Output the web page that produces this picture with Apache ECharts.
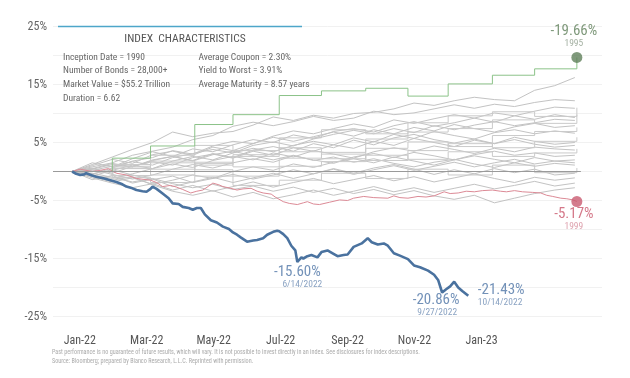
<!DOCTYPE html>
<html><head><meta charset="utf-8">
<script src="https://cdn.jsdelivr.net/npm/echarts@6/dist/echarts.min.js"></script>
<style>html,body{margin:0;padding:0;background:#fff}#c{width:630px;height:378px}</style>
</head><body><div id="c"></div>
<script>
// ---- tick labels ----
const xTickLabels = ['Jan-22','Mar-22','May-22','Jul-22','Sep-22','Nov-22','Jan-23'];
const xTickSlots = [2,7,12,17,22,27,32];          // slots on a 42-slot label axis
const yTickLabelValues = [-25,-15,-5,5,15,25];

// ---- 2022 (blue) : trading-day index and cumulative return % ----
const blueDays = [0,2,4,6,7,10,12,16,19,22,25,27,30,32,35,37,39,40,42,45,48,50,53,55,58,60,62,64,66,69,72,75,78,80,82,84,87,90,92,95,97,100,102,103,105,107,109,111,112,114,115,117,119,122,124,127,130,132,135,137,140,142,144,147,149,152,155,157,160,163,167,170,173,177,180,182,184,186,188,190,192,194,197];
const blueValues = [0,-0.4,-0.6,-0.5,-0.3,-0.7,-0.9,-1.2,-1.5,-1.8,-2.2,-2.6,-2.9,-3.2,-3.4,-3.5,-3.0,-2.6,-3.0,-3.8,-4.6,-5.5,-5.6,-6.1,-6.3,-6.6,-6.3,-6.3,-7.4,-8.4,-8.8,-9.5,-9.9,-10.5,-10.9,-11.4,-12.1,-11.9,-11.8,-11.5,-10.9,-10.4,-10.2,-10.3,-10.8,-11.5,-12.8,-13.6,-15.6,-14.8,-15.0,-14.6,-14.4,-14.8,-13.9,-13.6,-14.2,-14.6,-14.4,-14.3,-13.0,-12.7,-12.4,-11.5,-12.2,-12.6,-12.4,-12.8,-14.1,-14.5,-15.1,-16.2,-16.5,-17.1,-17.8,-18.7,-20.86,-20.3,-19.8,-19.0,-20.0,-20.6,-21.43];
const blueNoteDays = [112,184,197];
const blueNoteDates = ['6/14/2022','9/27/2022','10/14/2022'];

// ---- 1999 (red) ----
const redDays = [0,4,10,14,18,22,27,32,39,42,45,49,52,55,59,62,65,68,70,73,75,79,82,85,89,92,95,99,101,105,108,112,115,117,120,123,128,133,137,140,145,150,157,160,163,167,172,176,180,185,188,192,196,200,204,209,213,216,220,224,229,233,236,239,243,246,249,251];
const redValues = [0,0.4,0.0,0.2,0.5,-0.3,-0.6,-1.2,-1.5,-1.9,-2.6,-2.4,-2.7,-3.1,-3.7,-3.4,-3.2,-2.5,-2.0,-2.3,-2.6,-2.9,-3.2,-3.0,-2.9,-3.4,-3.7,-3.9,-4.4,-5.2,-5.5,-5.7,-5.4,-5.2,-5.6,-5.7,-5.3,-4.9,-5.0,-4.6,-4.3,-4.5,-4.6,-4.2,-4.5,-4.6,-4.3,-4.4,-4.2,-3.5,-3.8,-3.7,-3.4,-3.5,-3.3,-3.2,-3.4,-3.5,-3.3,-3.5,-3.6,-3.7,-4.1,-4.3,-4.6,-4.7,-4.9,-5.17];

// ---- 1995 (green, monthly) ----
const greenDays = [0,20,39,61,80,103,124,146,167,187,209,230,251];
const greenValues = [0,2.3,4.4,8.1,9.8,13.1,13.9,14.35,13.0,15.1,16.6,17.7,19.66];

// ---- other years (grey), daily series sampled every 10 trading days ----
const greyDays = [0,10,20,30,40,50,60,70,80,90,100,110,120,130,140,150,160,170,180,190,200,210,220,230,240,250];
const grey01 = [0,1.2,2.5,3.8,5.0,6.8,6.0,6.6,6.9,8.0,9.4,8.8,9.7,9.2,10.0,10.2,10.8,11.8,11.4,12.2,12.8,12.4,12.2,14.0,14.8,16.2];
const grey02 = [0,0.8,1.5,2.8,3.5,4.2,5.5,6.2,7.8,8.5,7.9,8.6,9.5,8.8,9.2,10.4,9.8,10.1,10.8,11.5,10.9,11.6,11.2,11.9,12.4,12.2];
const grey03 = [0,-0.5,0.6,1.8,2.4,3.6,3.0,4.4,5.2,4.8,6.1,7.0,6.5,7.4,8.2,7.6,8.9,8.3,9.1,9.8,9.2,10.1,9.6,10.4,11.1,10.9];
const grey04 = [0,0.4,1.2,0.8,2.0,2.6,3.9,3.4,4.6,5.5,5.0,6.3,5.7,6.9,7.4,6.8,7.9,8.6,7.8,8.4,9.2,8.5,9.6,9.0,9.8,9.3];
const grey05 = [0,1.0,2.1,1.4,2.9,3.5,2.8,4.2,3.6,4.8,5.9,5.2,6.0,6.8,6.1,7.2,6.5,7.6,7.0,8.1,7.4,6.8,7.7,8.3,7.6,7.9];
const grey06 = [0,-0.8,0.2,1.1,0.5,1.8,2.6,2.0,3.2,4.0,3.4,4.5,5.2,4.6,5.8,5.1,6.4,5.7,6.9,6.2,5.6,6.7,7.2,6.5,7.0,6.6];
const grey07 = [0,0.6,-0.3,0.9,1.7,1.1,2.4,3.0,2.3,3.5,2.8,4.1,3.5,4.6,4.0,5.2,4.5,5.7,5.0,4.3,5.4,4.8,5.9,5.2,4.7,5.0];
const grey08 = [0,-0.6,-1.2,-0.4,0.5,1.3,0.7,1.9,2.6,2.0,3.2,2.5,3.6,3.0,2.3,3.4,4.1,3.5,4.4,3.8,3.1,4.0,3.4,4.2,3.9,3.7];
const grey09 = [0,0.3,-0.5,-1.3,-0.6,0.4,1.2,0.6,1.5,2.2,1.6,2.7,2.0,1.4,2.5,3.1,2.4,3.3,2.7,2.0,2.9,3.5,2.8,3.2,2.6,2.8];
const grey10 = [0,-0.9,-1.8,-1.1,-2.2,-1.5,-0.6,-1.2,0.0,0.8,0.2,1.3,0.7,1.6,2.2,1.5,2.5,1.8,1.1,2.0,2.7,2.1,1.5,2.4,1.8,2.0];
const grey11 = [0,0.5,1.4,0.8,1.9,2.6,1.8,2.9,3.5,2.7,2.0,2.8,1.9,2.5,1.6,2.2,1.4,0.8,1.6,2.1,1.3,0.7,1.5,0.9,1.4,1.1];
const grey12 = [0,-0.4,0.3,-0.6,-1.4,-0.8,-1.9,-1.2,-0.5,-1.3,-0.6,0.3,-0.4,0.5,-0.3,0.6,1.2,0.4,-0.5,0.3,-0.4,0.5,-0.2,0.4,-0.6,-0.3];
const grey13 = [0,-1.1,-2.0,-2.8,-2.1,-3.2,-2.4,-3.4,-2.6,-1.8,-2.7,-1.9,-1.2,-2.1,-1.4,-0.7,-1.6,-0.9,-1.8,-1.1,-0.4,-1.2,-1.9,-1.0,-1.5,-1.1];
const grey14 = [0,-0.7,-1.5,-0.9,-2.3,-3.4,-4.1,-3.3,-4.4,-3.6,-4.7,-4.0,-3.2,-4.1,-3.4,-2.6,-3.5,-2.8,-3.6,-2.9,-2.2,-3.0,-2.4,-1.7,-2.5,-2.0];
const grey15 = [0,-0.3,-1.0,-1.8,-1.2,-2.1,-2.8,-2.2,-3.1,-2.5,-3.4,-2.7,-3.6,-2.9,-3.8,-3.1,-4.0,-3.3,-4.2,-4.8,-4.1,-5.4,-4.6,-3.8,-3.2,-2.8];
const grey16 = [0,1.5,0.8,2.2,3.4,2.6,1.9,3.1,2.4,3.7,4.3,3.5,4.8,4.1,5.4,4.6,5.8,6.4,5.5,4.9,5.6,4.8,5.5,4.7,4.2,4.5];
const grey17 = [0,0.2,0.9,1.7,1.1,2.4,3.1,3.8,3.2,4.5,5.1,4.4,5.6,6.4,7.1,6.5,7.4,6.7,7.9,7.2,8.0,8.6,7.9,8.4,9.0,8.8];
const grey18 = [0,-1.4,-0.7,-2.0,-1.3,-2.6,-1.8,-1.0,-1.9,-1.1,-0.3,-1.2,-0.4,0.4,-0.5,0.3,1.0,0.2,0.9,1.6,0.8,1.5,2.1,1.3,1.8,1.5];

// ---- other years (grey), monthly series ----
const stepDays = [0,20,39,61,80,103,124,146,167,187,209,230,251];
const step01 = [0,1.2,2.8,4.5,3.6,5.8,7.2,6.5,8.4,9.6,10.3,9.5,11.0];
const step02 = [0,0.5,-0.6,1.4,2.9,4.1,3.3,5.6,6.8,7.4,8.9,8.3,9.8];
const step03 = [0,0.9,1.8,1.1,2.6,3.4,2.2,4.0,5.1,4.3,6.2,6.9,7.6];
const step04 = [0,-0.7,0.4,1.6,0.8,2.3,3.0,1.9,3.6,4.8,4.1,5.2,5.9];
const step05 = [0,0.6,1.5,0.3,-0.8,0.9,1.7,2.8,2.1,3.4,2.6,3.2,3.9];
const step06 = [0,-1.0,-1.9,-0.8,-2.4,-1.5,-0.3,-1.2,0.4,-0.6,1.1,-0.2,0.6];

const greyDaily = [grey01,grey02,grey03,grey04,grey05,grey06,grey07,grey08,grey09,grey10,grey11,grey12,grey13,grey14,grey15,grey16,grey17,grey18];
const greyMonthly = [step01,step02,step03,step04,step05,step06];

const FONT = "'Liberation Sans Narrow','Roboto Condensed','Arial Narrow','Liberation Sans',sans-serif";
const pair = (xs, ys) => xs.map((x, i) => [x, ys[i]]);
const fmtPct = v => v.toFixed(2) + '%';

const labelSlots = [];
for (let i = 0; i < 42; i++) labelSlots.push('');
xTickSlots.forEach((s, k) => { labelSlots[s] = xTickLabels[k]; });

const series = [];
greyDaily.forEach(v => series.push({
  type: 'line', data: pair(greyDays, v), symbol: 'none', silent: true,
  lineStyle: { color: '#c3c3c3', width: 1 }, z: 2
}));
greyMonthly.forEach(v => series.push({
  type: 'line', step: 'end', data: pair(stepDays, v), symbol: 'none', silent: true,
  lineStyle: { color: '#cacaca', width: 1 }, z: 2
}));
// zero line
series.push({
  type: 'line', data: [], symbol: 'none', silent: true,
  markLine: { silent: true, symbol: 'none', label: { show: false },
    lineStyle: { color: '#9a9a9a', width: 1, type: 'solid' },
    data: [[{ coord: [-9.5, 0] }, { coord: [253, 0] }]] }, z: 3
});
series.push({
  type: 'line', data: pair(redDays, redValues), symbol: 'none', silent: true,
  lineStyle: { color: '#dc8a96', width: 1 }, z: 4
});
series.push({
  type: 'line', step: 'end', data: pair(greenDays, greenValues), symbol: 'none', silent: true,
  lineStyle: { color: '#8cc389', width: 1 }, z: 4
});
series.push({
  type: 'line', data: pair(blueDays, blueValues), symbol: 'none', silent: true,
  lineStyle: { color: '#4a729f', width: 2.6 }, z: 6
});

// blue annotations (invisible points carrying labels)
const blueRich = {
  a: { fontFamily: FONT, fontSize: 15, color: '#4f76a6', lineHeight: 14 },
  b: { fontFamily: FONT, fontSize: 9.5, color: '#6c8bb3', lineHeight: 11 }
};
const noteLayout = [
  { position: 'bottom', distance: 3, offset: [0, 0], b: [0, 0, 0, 10] },
  { position: 'bottom', distance: 0, offset: [-6, 0], b: [0, 0, 0, 2] },
  { position: 'right', distance: 9, offset: [0, 0], b: [0, 0, 0, 0] }
];
const noteData = blueNoteDays.map((d, k) => {
  const v = blueValues[blueDays.indexOf(d)];
  const L = noteLayout[k];
  const al = L.position === 'right' ? 'left' : 'center';
  return { value: [d, v], label: { show: true, position: L.position, distance: L.distance, offset: L.offset,
    formatter: '{a|' + fmtPct(v) + '}\n{b|' + blueNoteDates[k] + '}',
    rich: { a: Object.assign({ align: al }, blueRich.a), b: Object.assign({ align: al, padding: L.b }, blueRich.b) } } };
});
series.push({ type: 'scatter', data: noteData, symbolSize: 1, itemStyle: { color: 'rgba(0,0,0,0)' }, silent: true, z: 8 });

series.push({
  type: 'scatter', data: [[greenDays[greenDays.length - 1], greenValues[greenValues.length - 1]]], symbolSize: 11,
  itemStyle: { color: '#5f7f5a' }, z: 7, silent: true,
  label: { show: true, position: 'top', distance: 3, offset: [-3, 0], formatter: '{a|-19.66%}\n{b|1995}',
    rich: { a: { fontFamily: FONT, fontSize: 15, color: '#5f7f5a', lineHeight: 14, align: 'center' },
            b: { fontFamily: FONT, fontSize: 9.5, color: '#8c9c89', lineHeight: 11, align: 'center' } } }
});
series.push({
  type: 'scatter', data: [[redDays[redDays.length - 1], redValues[redValues.length - 1]]], symbolSize: 11,
  itemStyle: { color: '#c95b70' }, z: 7, silent: true,
  label: { show: true, position: 'bottom', distance: 0, offset: [-3, 0], formatter: '{a|-5.17%}\n{b|1999}',
    rich: { a: { fontFamily: FONT, fontSize: 15, color: '#c9566c', lineHeight: 14, align: 'center' },
            b: { fontFamily: FONT, fontSize: 9.5, color: '#d48a98', lineHeight: 12, align: 'center' } } }
});

const infoLeft = ['Inception Date = 1990', 'Number of Bonds = 28,000+', 'Market Value = $55.2 Trillion', 'Duration = 6.62'];
const infoRight = ['Average Coupon = 2.30%', 'Yield to Worst = 3.91%', 'Average Maturity = 8.57 years'];
const footer = ['Past performance is no guarantee of future results, which will vary. It is not possible to invest directly in an index. See disclosures for index descriptions.',
  'Source: Bloomberg; prepared by Bianco Research, L.L.C. Reprinted with permission.'];

const graphics = [
  { type: 'line', shape: { x1: 58, y1: 26.5, x2: 302, y2: 26.5 }, style: { stroke: '#4ea6c9', lineWidth: 1.5 }, z: 51 },
  { type: 'text', x: 185, y: 39, style: { text: 'INDEX  CHARACTERISTICS', font: '11.5px ' + FONT, fill: '#555', align: 'center', verticalAlign: 'middle' }, z: 51 }
];
infoLeft.forEach((t, i) => graphics.push({ type: 'text', x: 63, y: 57.3 + i * 13.8,
  style: { text: t, font: '9.5px ' + FONT, fill: '#666', verticalAlign: 'middle' }, z: 51 }));
infoRight.forEach((t, i) => graphics.push({ type: 'text', x: 198.5, y: 57.3 + i * 13.8,
  style: { text: t, font: '9.5px ' + FONT, fill: '#666', verticalAlign: 'middle' }, z: 51 }));
footer.forEach((t, i) => graphics.push({ type: 'text', x: 52, y: 351.7 + i * 9.6, scaleX: 0.84,
  style: { text: t, font: '7.3px ' + FONT, fill: '#aaa', verticalAlign: 'middle' }, z: 51 }));

const chart = echarts.init(document.getElementById('c'), null, { renderer: 'canvas' });
chart.setOption({
  animation: false,
  backgroundColor: '#fff',
  grid: { left: 53, right: 28, top: 26.5, bottom: 61.5, containLabel: false },
  xAxis: [
    { type: 'value', min: -9.5, max: 263.5, show: false },
    { type: 'category', data: labelSlots, boundaryGap: false, position: 'bottom',
      axisLine: { show: false }, axisTick: { show: false }, splitLine: { show: false },
      axisLabel: { interval: (idx, v) => v !== '', margin: 18, fontFamily: FONT, fontSize: 12, color: '#555' } }
  ],
  yAxis: {
    type: 'value', min: -25, max: 25, interval: 5,
    axisLine: { show: false }, axisTick: { show: false },
    axisLabel: { margin: 6, fontFamily: FONT, fontSize: 12, color: '#666',
      formatter: v => yTickLabelValues.indexOf(v) >= 0 ? v + '%' : '' },
    splitLine: { lineStyle: { color: '#f1f1f1', width: 1 } }
  },
  series: series,
  graphic: graphics
});
</script></body></html>
